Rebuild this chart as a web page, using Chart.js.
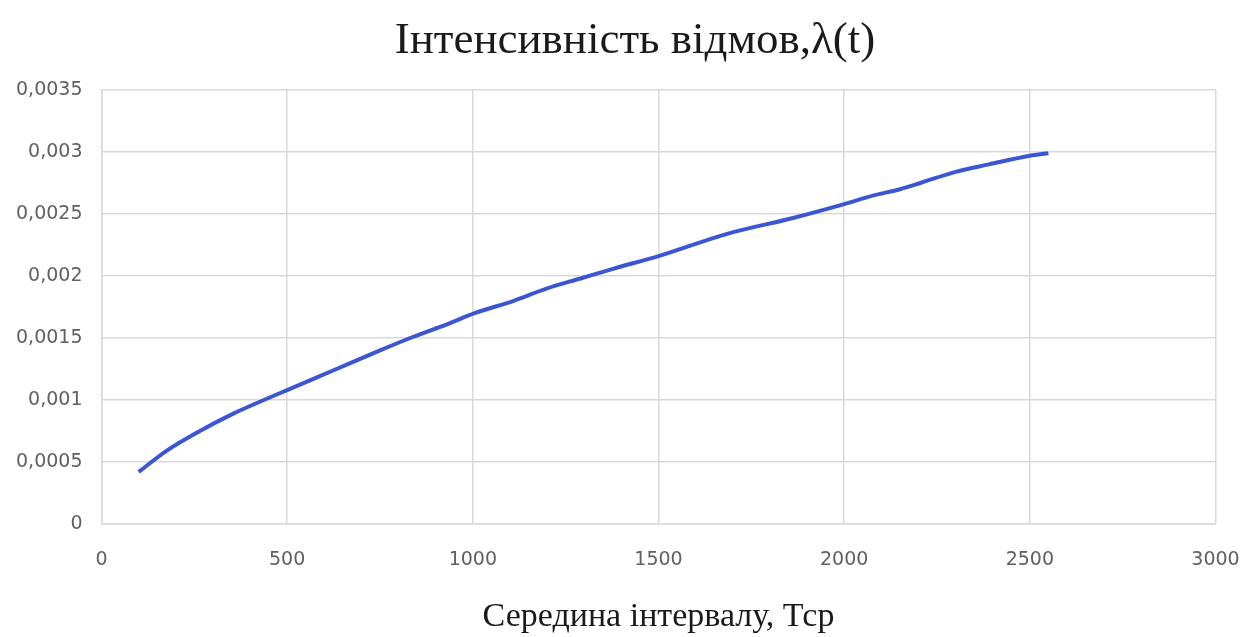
<!DOCTYPE html>
<html lang="uk">
<head>
<meta charset="utf-8">
<title>Інтенсивність відмов</title>
<script src="https://cdn.jsdelivr.net/npm/chart.js@4/dist/chart.umd.min.js"></script>
<style>
  html, body { margin: 0; padding: 0; background: #ffffff; }
  #wrap { width: 1245px; height: 637px; position: relative; }
</style>
</head>
<body>
<div id="wrap"><canvas id="chart" width="1245" height="637"></canvas></div>
<script>
// Середина інтервалу (год)
const intervalMid = [100, 175, 265, 355, 445, 500, 625, 750, 840, 930, 1005, 1110, 1200, 1290, 1380, 1500, 1685, 1865, 2000, 2080, 2150, 2205, 2300, 2390, 2500, 2550];
// Інтенсивність відмов λ(t)
const failureRate = [0.00042, 0.00059, 0.00075, 0.00089, 0.00101, 0.00108, 0.00124, 0.00140, 0.00151, 0.00161, 0.00170, 0.00180, 0.00190, 0.00198, 0.00206, 0.00216, 0.00234, 0.00247, 0.00258, 0.00265, 0.00270, 0.00275, 0.00284, 0.00290, 0.00297, 0.00299];

const xTickLabels = ['0', '500', '1000', '1500', '2000', '2500', '3000'];
const yTickLabels = ['0', '0,0005', '0,001', '0,0015', '0,002', '0,0025', '0,003', '0,0035'];

const chartTitle = 'Інтенсивність відмов,λ(t)';
const xAxisTitle = 'Середина інтервалу, Тср';

const points = intervalMid.map((x, i) => ({ x: x, y: failureRate[i] }));

const gridColor = '#d9d9d9';
const tickColor = '#606060';
const tickFont = { family: '"DejaVu Sans", sans-serif', size: 19 };
const serif = '"Liberation Serif", "Times New Roman", serif';

new Chart(document.getElementById('chart'), {
  type: 'line',
  data: {
    datasets: [{
      data: points,
      borderColor: '#3a56d4',
      borderWidth: 4,
      pointRadius: 0,
      fill: false,
      cubicInterpolationMode: 'monotone'
    }]
  },
  options: {
    responsive: false,
    animation: false,
    // the title box is widened to the right so its centre sits over the plot
    layout: { padding: { left: 0, right: -25, top: 0, bottom: 0 } },
    plugins: {
      legend: { display: false },
      tooltip: { enabled: false },
      title: {
        display: true,
        text: chartTitle,
        color: '#1a1a1a',
        font: { family: serif, size: 45, weight: 'normal', lineHeight: 1.2 },
        padding: { top: 14, bottom: 22 }
      }
    },
    scales: {
      x: {
        type: 'linear',
        min: 0,
        max: 3000,
        ticks: {
          stepSize: 500,
          color: tickColor,
          font: tickFont,
          padding: 25,
          maxRotation: 0,
          callback: (v, i) => xTickLabels[i]
        },
        grid: { color: gridColor, lineWidth: 1.5, drawTicks: false },
        border: { color: gridColor, width: 1.5 },
        title: {
          display: true,
          text: xAxisTitle,
          color: '#1a1a1a',
          font: { family: serif, size: 34, lineHeight: 1.2 },
          padding: { top: 0, bottom: 0 }
        },
        afterFit: (scale) => {
          scale.height = 113;
          scale.paddingRight = 29.5;
        }
      },
      y: {
        type: 'linear',
        min: 0,
        max: 0.0035,
        ticks: {
          stepSize: 0.0005,
          color: tickColor,
          font: tickFont,
          padding: 19,
          callback: (v, i) => yTickLabels[i]
        },
        grid: { color: gridColor, lineWidth: 1.5, drawTicks: false },
        border: { color: gridColor, width: 1.5 },
        afterFit: (scale) => { scale.width = 101.5; }
      }
    }
  }
});
</script>
</body>
</html>
